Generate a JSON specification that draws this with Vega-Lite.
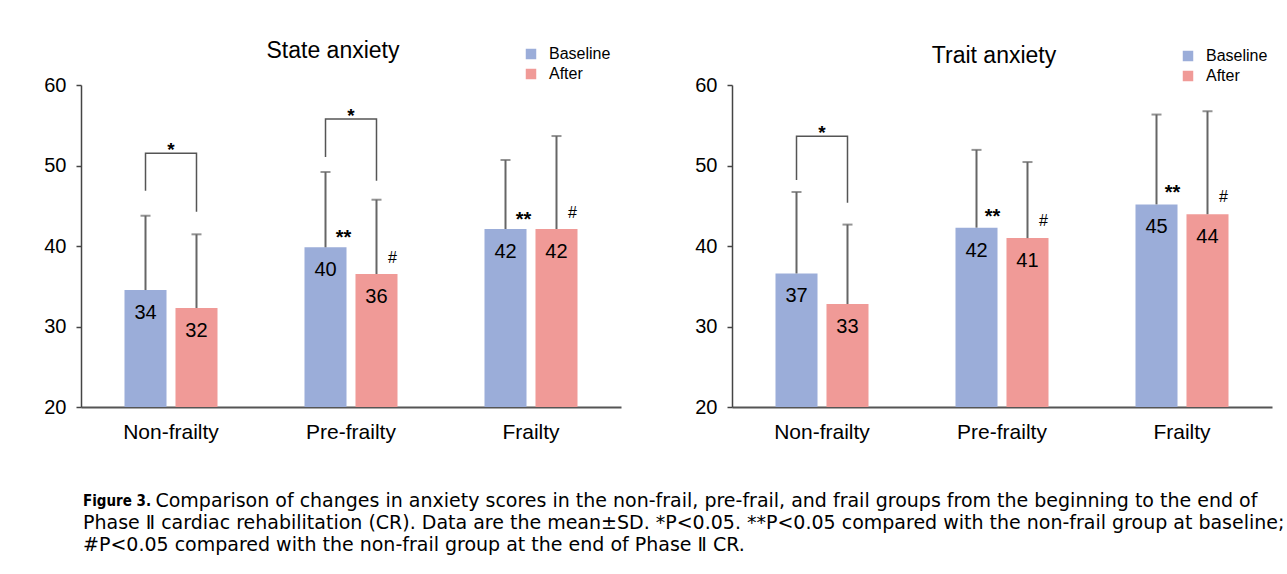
{
  "$schema": "https://vega.github.io/schema/vega-lite/v6.json",
  "padding": {"left": 43, "top": 40, "right": 4, "bottom": 4},
  "background": "white",
  "datasets": {
    "bars": [
      {"panel": "State", "group": "Non-frailty", "time": "Baseline", "mean": 34.53, "upper": 43.76, "label": "34", "sig": ""},
      {"panel": "State", "group": "Non-frailty", "time": "After", "mean": 32.30, "upper": 41.45, "label": "32", "sig": ""},
      {"panel": "State", "group": "Pre-frailty", "time": "Baseline", "mean": 39.84, "upper": 49.19, "label": "40", "sig": "**"},
      {"panel": "State", "group": "Pre-frailty", "time": "After", "mean": 36.52, "upper": 45.75, "label": "36", "sig": "#"},
      {"panel": "State", "group": "Frailty", "time": "Baseline", "mean": 42.11, "upper": 50.68, "label": "42", "sig": "**"},
      {"panel": "State", "group": "Frailty", "time": "After", "mean": 42.11, "upper": 53.66, "label": "42", "sig": "#"},
      {"panel": "Trait", "group": "Non-frailty", "time": "Baseline", "mean": 36.59, "upper": 46.71, "label": "37", "sig": ""},
      {"panel": "Trait", "group": "Non-frailty", "time": "After", "mean": 32.79, "upper": 42.66, "label": "33", "sig": ""},
      {"panel": "Trait", "group": "Pre-frailty", "time": "Baseline", "mean": 42.28, "upper": 51.94, "label": "42", "sig": "**"},
      {"panel": "Trait", "group": "Pre-frailty", "time": "After", "mean": 40.98, "upper": 50.43, "label": "41", "sig": "#"},
      {"panel": "Trait", "group": "Frailty", "time": "Baseline", "mean": 45.17, "upper": 56.33, "label": "45", "sig": "**"},
      {"panel": "Trait", "group": "Frailty", "time": "After", "mean": 43.95, "upper": 56.74, "label": "44", "sig": "#"}
    ],
    "brackets": [
      {"panel": "State", "id": "S1", "group": "Non-frailty", "time": "Baseline", "value": 46.87, "seq": 1},
      {"panel": "State", "id": "S1", "group": "Non-frailty", "time": "Baseline", "value": 51.52, "seq": 2},
      {"panel": "State", "id": "S1", "group": "Non-frailty", "time": "After", "value": 51.52, "seq": 3},
      {"panel": "State", "id": "S1", "group": "Non-frailty", "time": "After", "value": 44.26, "seq": 4},
      {"panel": "State", "id": "S2", "group": "Pre-frailty", "time": "Baseline", "value": 51.06, "seq": 1},
      {"panel": "State", "id": "S2", "group": "Pre-frailty", "time": "Baseline", "value": 55.78, "seq": 2},
      {"panel": "State", "id": "S2", "group": "Pre-frailty", "time": "After", "value": 55.78, "seq": 3},
      {"panel": "State", "id": "S2", "group": "Pre-frailty", "time": "After", "value": 48.11, "seq": 4},
      {"panel": "Trait", "id": "T1", "group": "Non-frailty", "time": "Baseline", "value": 48.21, "seq": 1},
      {"panel": "Trait", "id": "T1", "group": "Non-frailty", "time": "Baseline", "value": 53.64, "seq": 2},
      {"panel": "Trait", "id": "T1", "group": "Non-frailty", "time": "After", "value": 53.64, "seq": 3},
      {"panel": "Trait", "id": "T1", "group": "Non-frailty", "time": "After", "value": 45.37, "seq": 4}
    ]
  },
  "title": {
    "text": "Figure 3.",
    "subtitle": [
      "\u200b\u00a0\u00a0\u00a0\u00a0\u00a0\u00a0\u00a0\u00a0\u00a0\u00a0\u00a0\u00a0Comparison of changes in anxiety scores in the non-frail, pre-frail, and frail groups from the beginning to the end of",
      "Phase Ⅱ cardiac rehabilitation (CR). Data are the mean±SD. *P<0.05. **P<0.05 compared with the non-frail group at baseline;",
      "#P<0.05 compared with the non-frail group at the end of Phase Ⅱ CR."
    ],
    "orient": "bottom",
    "anchor": "start",
    "frame": "group",
    "font": "Liberation Sans Narrow, DejaVu Sans Condensed, Liberation Sans",
    "fontWeight": "bold",
    "fontSize": 15,
    "color": "#000000",
    "subtitleFont": "DejaVu Sans",
    "subtitleFontSize": 19,
    "subtitleColor": "#000000",
    "subtitleLineHeight": 22,
    "subtitlePadding": -17,
    "offset": 52,
    "dx": 2
  },
  "spacing": 73,
  "resolve": {"scale": {"color": "independent"}, "legend": {"color": "independent"}},
  "hconcat": [
    {
      "width": 540,
      "height": 322,
      "title": {"text": "State anxiety", "dx": -18, "frame": "group", "offset": -17},
      "layer": [
        {
          "data": {"name": "bars"},
          "transform": [{"filter": "datum.panel === 'State'"}],
          "mark": {"type": "bar"},
          "encoding": {
            "x": {"field": "group", "type": "nominal", "scale": {"domain": ["Non-frailty", "Pre-frailty", "Frailty"], "paddingInner": 0, "paddingOuter": 0}, "axis": {"title": null}},
            "xOffset": {"field": "time", "type": "nominal", "scale": {"domain": ["Baseline", "After"], "paddingInner": 0.176, "paddingOuter": 0.853}},
            "y": {"field": "mean", "type": "quantitative", "scale": {"domain": [20, 60], "nice": false, "zero": false}, "axis": {"title": null, "values": [20, 30, 40, 50, 60]}},
            "y2": {"datum": 20},
            "color": {"field": "time", "type": "nominal", "scale": {"domain": ["Baseline", "After"], "range": ["#9badd9", "#f09a97"]}, "legend": {"title": null, "orient": "none", "legendX": 442, "legendY": -39}}
          }
        },
        {
          "data": {"name": "bars"},
          "transform": [{"filter": "datum.panel === 'State'"}],
          "mark": {"type": "rule", "color": "#666666", "strokeWidth": 2},
          "encoding": {
            "x": {"field": "group", "type": "nominal"},
            "xOffset": {"field": "time", "type": "nominal"},
            "y": {"field": "mean", "type": "quantitative"},
            "y2": {"field": "upper"}
          }
        },
        {
          "data": {"name": "bars"},
          "transform": [{"filter": "datum.panel === 'State'"}],
          "mark": {"type": "tick", "color": "#666666", "thickness": 2, "size": 10, "orient": "horizontal"},
          "encoding": {
            "x": {"field": "group", "type": "nominal"},
            "xOffset": {"field": "time", "type": "nominal"},
            "y": {"field": "upper", "type": "quantitative"}
          }
        },
        {
          "data": {"name": "bars"},
          "transform": [{"filter": "datum.panel === 'State'"}],
          "mark": {"type": "text", "fontSize": 20, "baseline": "alphabetic", "dy": 29, "color": "#000000"},
          "encoding": {
            "x": {"field": "group", "type": "nominal"},
            "xOffset": {"field": "time", "type": "nominal"},
            "y": {"field": "mean", "type": "quantitative"},
            "text": {"field": "label"}
          }
        },
        {
          "data": {"name": "bars"},
          "transform": [{"filter": "datum.panel === 'State' && datum.sig === '**'"}],
          "mark": {"type": "text", "fontSize": 20, "fontWeight": "bold", "baseline": "alphabetic", "dx": 18, "dy": -3, "color": "#000000"},
          "encoding": {
            "x": {"field": "group", "type": "nominal"},
            "xOffset": {"field": "time", "type": "nominal"},
            "y": {"field": "mean", "type": "quantitative"},
            "text": {"field": "sig"}
          }
        },
        {
          "data": {"name": "bars"},
          "transform": [{"filter": "datum.panel === 'State' && datum.sig === '#'"}],
          "mark": {"type": "text", "fontSize": 16, "baseline": "alphabetic", "dx": 16, "dy": -11, "color": "#000000"},
          "encoding": {
            "x": {"field": "group", "type": "nominal"},
            "xOffset": {"field": "time", "type": "nominal"},
            "y": {"field": "mean", "type": "quantitative"},
            "text": {"field": "sig"}
          }
        },
        {
          "data": {"name": "brackets"},
          "transform": [{"filter": "datum.panel === 'State'"}],
          "mark": {"type": "line", "color": "#555555", "strokeWidth": 1.5},
          "encoding": {
            "x": {"field": "group", "type": "nominal"},
            "xOffset": {"field": "time", "type": "nominal"},
            "y": {"field": "value", "type": "quantitative"},
            "detail": {"field": "id"},
            "order": {"field": "seq"}
          }
        },
        {
          "data": {"name": "brackets"},
          "transform": [{"filter": "datum.panel === 'State' && datum.seq === 2"}],
          "mark": {"type": "text", "fontSize": 19, "fontWeight": "bold", "baseline": "alphabetic", "dy": 3, "color": "#000000"},
          "encoding": {
            "x": {"field": "group", "type": "nominal"},
            "y": {"field": "value", "type": "quantitative"},
            "text": {"value": "*"}
          }
        }
      ]
    },
    {
      "width": 540,
      "height": 322,
      "title": {"text": "Trait anxiety", "dx": -8, "frame": "group", "offset": -20},
      "layer": [
        {
          "data": {"name": "bars"},
          "transform": [{"filter": "datum.panel === 'Trait'"}],
          "mark": {"type": "bar"},
          "encoding": {
            "x": {"field": "group", "type": "nominal", "scale": {"domain": ["Non-frailty", "Pre-frailty", "Frailty"], "paddingInner": 0, "paddingOuter": 0}, "axis": {"title": null}},
            "xOffset": {"field": "time", "type": "nominal", "scale": {"domain": ["Baseline", "After"], "paddingInner": 0.176, "paddingOuter": 0.853}},
            "y": {"field": "mean", "type": "quantitative", "scale": {"domain": [20, 60], "nice": false, "zero": false}, "axis": {"title": null, "values": [20, 30, 40, 50, 60]}},
            "y2": {"datum": 20},
            "color": {"field": "time", "type": "nominal", "scale": {"domain": ["Baseline", "After"], "range": ["#9badd9", "#f09a97"]}, "legend": {"title": null, "orient": "none", "legendX": 448, "legendY": -37}}
          }
        },
        {
          "data": {"name": "bars"},
          "transform": [{"filter": "datum.panel === 'Trait'"}],
          "mark": {"type": "rule", "color": "#666666", "strokeWidth": 2},
          "encoding": {
            "x": {"field": "group", "type": "nominal"},
            "xOffset": {"field": "time", "type": "nominal"},
            "y": {"field": "mean", "type": "quantitative"},
            "y2": {"field": "upper"}
          }
        },
        {
          "data": {"name": "bars"},
          "transform": [{"filter": "datum.panel === 'Trait'"}],
          "mark": {"type": "tick", "color": "#666666", "thickness": 2, "size": 10, "orient": "horizontal"},
          "encoding": {
            "x": {"field": "group", "type": "nominal"},
            "xOffset": {"field": "time", "type": "nominal"},
            "y": {"field": "upper", "type": "quantitative"}
          }
        },
        {
          "data": {"name": "bars"},
          "transform": [{"filter": "datum.panel === 'Trait'"}],
          "mark": {"type": "text", "fontSize": 20, "baseline": "alphabetic", "dy": 29, "color": "#000000"},
          "encoding": {
            "x": {"field": "group", "type": "nominal"},
            "xOffset": {"field": "time", "type": "nominal"},
            "y": {"field": "mean", "type": "quantitative"},
            "text": {"field": "label"}
          }
        },
        {
          "data": {"name": "bars"},
          "transform": [{"filter": "datum.panel === 'Trait' && datum.sig === '**'"}],
          "mark": {"type": "text", "fontSize": 20, "fontWeight": "bold", "baseline": "alphabetic", "dx": 16, "dy": -5, "color": "#000000"},
          "encoding": {
            "x": {"field": "group", "type": "nominal"},
            "xOffset": {"field": "time", "type": "nominal"},
            "y": {"field": "mean", "type": "quantitative"},
            "text": {"field": "sig"}
          }
        },
        {
          "data": {"name": "bars"},
          "transform": [{"filter": "datum.panel === 'Trait' && datum.sig === '#'"}],
          "mark": {"type": "text", "fontSize": 16, "baseline": "alphabetic", "dx": 16, "dy": -12, "color": "#000000"},
          "encoding": {
            "x": {"field": "group", "type": "nominal"},
            "xOffset": {"field": "time", "type": "nominal"},
            "y": {"field": "mean", "type": "quantitative"},
            "text": {"field": "sig"}
          }
        },
        {
          "data": {"name": "brackets"},
          "transform": [{"filter": "datum.panel === 'Trait'"}],
          "mark": {"type": "line", "color": "#555555", "strokeWidth": 1.5},
          "encoding": {
            "x": {"field": "group", "type": "nominal"},
            "xOffset": {"field": "time", "type": "nominal"},
            "y": {"field": "value", "type": "quantitative"},
            "detail": {"field": "id"},
            "order": {"field": "seq"}
          }
        },
        {
          "data": {"name": "brackets"},
          "transform": [{"filter": "datum.panel === 'Trait' && datum.seq === 2"}],
          "mark": {"type": "text", "fontSize": 19, "fontWeight": "bold", "baseline": "alphabetic", "dy": 3, "color": "#000000"},
          "encoding": {
            "x": {"field": "group", "type": "nominal"},
            "y": {"field": "value", "type": "quantitative"},
            "text": {"value": "*"}
          }
        }
      ]
    }
  ],
  "config": {
    "font": "Liberation Sans",
    "view": {"stroke": null},
    "axis": {"labelColor": "#000000", "grid": false, "labelFont": "Liberation Sans"},
    "axisY": {"domainColor": "#444444", "domainWidth": 1.5, "tickColor": "#444444", "tickWidth": 1.5, "tickSize": 5, "labelFontSize": 20, "labelPadding": 10},
    "axisX": {"domainColor": "#555555", "domainWidth": 2, "ticks": false, "tickSize": 0, "labelFontSize": 21, "labelPadding": 14, "labelAngle": 0},
    "title": {"fontSize": 23, "fontWeight": "normal", "color": "#000000"},
    "legend": {"symbolType": "square", "symbolSize": 110, "symbolStrokeWidth": 0, "labelFontSize": 16, "labelColor": "#000000", "labelOffset": 10, "rowPadding": 4}
  }
}
